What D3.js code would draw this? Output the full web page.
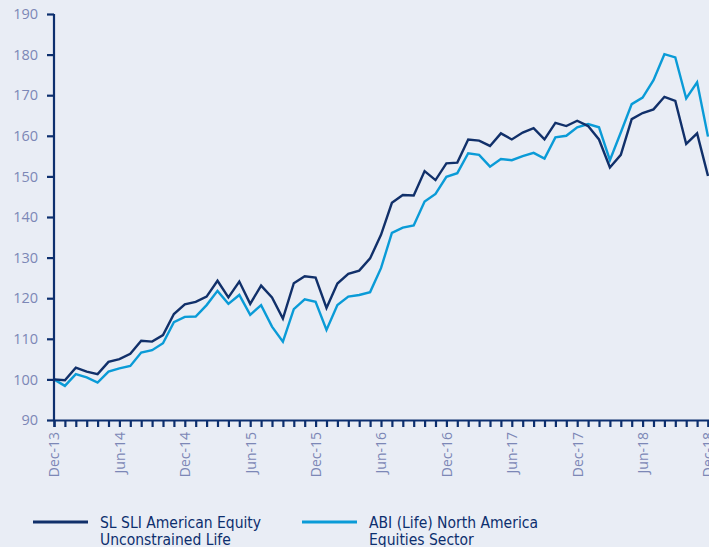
<!DOCTYPE html>
<html>
<head>
<meta charset="utf-8">
<script src="https://cdn.jsdelivr.net/npm/d3@7"></script>
<style>
  html, body { margin: 0; padding: 0; background: #e9edf5; overflow: hidden; }
  svg { display: block; }
</style>
</head>
<body>
<svg id="chart" width="709" height="547"></svg>
<script>
// Monthly index values, Dec-13 = 100
var months = d3.range(0, 61);
var tickLabels = ["Dec-13", "Jun-14", "Dec-14", "Jun-15", "Dec-15", "Jun-16",
  "Dec-16", "Jun-17", "Dec-17", "Jun-18", "Dec-18"];
var yTicks = [90, 100, 110, 120, 130, 140, 150, 160, 170, 180, 190];

var sliValues = [100, 99.8, 102.9, 101.9, 101.3, 104.3, 105, 106.3, 109.5, 109.3,
  110.9, 116.1, 118.5, 119.1, 120.4, 124.3, 120.2, 124.1, 118.6, 123.1,
  120.2, 115, 123.7, 125.4, 125.1, 117.6, 123.6, 126, 126.8, 129.8,
  135.6, 143.5, 145.4, 145.3, 151.3, 149.1, 153.2, 153.4, 159.1, 158.8,
  157.5, 160.6, 159.1, 160.8, 161.9, 159.1, 163.2, 162.4, 163.7, 162.4,
  159.1, 152.2, 155.3, 164.1, 165.6, 166.5, 169.6, 168.6, 158, 160.6, 150.1];

var abiValues = [100, 98.4, 101.3, 100.5, 99.2, 101.9, 102.7, 103.3, 106.6, 107.2,
  108.9, 114.1, 115.4, 115.5, 118.3, 121.8, 118.6, 120.8, 115.9, 118.3,
  113, 109.3, 117.3, 119.7, 119.1, 112.2, 118.3, 120.4, 120.8, 121.5,
  127.4, 136.1, 137.4, 137.9, 143.8, 145.7, 149.9, 150.8, 155.7, 155.3,
  152.4, 154.3, 154, 155, 155.8, 154.4, 159.6, 160, 162.1, 162.9,
  162.1, 154, 160.8, 167.8, 169.4, 173.7, 180.1, 179.3, 169.2, 173.2, 159.8];

var seriesNames = [["SL SLI American Equity", "Unconstrained Life"],
  ["ABI (Life) North America", "Equities Sector"]];

var axisColor = "#0d2f6e";
var labelColor = "#7c87b6";
var darkBlue = "#11306a";
var lightBlue = "#0a9bd7";

var svg = d3.select("#chart");
var margin = { left: 54, top: 14, right: 1, bottom: 127 };
var width = 709 - margin.left - margin.right;
var height = 547 - margin.top - margin.bottom;

var g = svg.append("g").attr("transform", `translate(${margin.left},${margin.top})`);

var x = d3.scaleLinear().domain([0, 60]).range([0, width]);
var y = d3.scaleLinear().domain([90, 190]).range([height, 0]);

// lines
var line = d3.line()
  .x((d, i) => x(months[i]))
  .y((d) => y(d));

g.append("path")
  .datum(abiValues)
  .attr("fill", "none")
  .attr("stroke", lightBlue)
  .attr("stroke-width", 2.4)
  .attr("stroke-linejoin", "miter")
  .attr("d", line);

g.append("path")
  .datum(sliValues)
  .attr("fill", "none")
  .attr("stroke", darkBlue)
  .attr("stroke-width", 2.4)
  .attr("stroke-linejoin", "miter")
  .attr("d", line);

// y axis
var yAxis = g.append("g")
  .call(d3.axisLeft(y).tickValues(yTicks).tickSize(7).tickPadding(9));
yAxis.select(".domain").attr("stroke", axisColor).attr("stroke-width", 2.2)
  .attr("d", `M0,${height + 1}V0`);
yAxis.selectAll(".tick line").attr("stroke", axisColor).attr("stroke-width", 2.2);
yAxis.selectAll(".tick text")
  .attr("fill", labelColor)
  .style("font-family", "'Open Sans', 'Noto Sans', sans-serif")
  .style("font-size", "14.5px");

// x axis: a tick every month, label every 6 months
var xAxis = g.append("g")
  .attr("transform", `translate(0,${height})`)
  .call(d3.axisBottom(x).tickValues(months).tickSize(7)
    .tickFormat((d) => (d % 6 == 0 ? tickLabels[d / 6] : "")));
xAxis.select(".domain").attr("stroke", axisColor).attr("stroke-width", 2.2);
xAxis.selectAll(".tick line").attr("stroke", axisColor).attr("stroke-width", 2.2);
xAxis.selectAll(".tick text")
  .attr("fill", labelColor)
  .style("font-family", "'Open Sans', 'Noto Sans', sans-serif")
  .style("font-size", "14px")
  .attr("text-anchor", "end")
  .attr("transform", "rotate(-90)")
  .attr("x", -12)
  .attr("y", 0)
  .attr("dy", "0.35em");

// legend
var legendColors = [darkBlue, lightBlue];
var legendX = [33, 302];
seriesNames.forEach((name, i) => {
  var lg = svg.append("g").attr("transform", `translate(${legendX[i]},522)`);
  lg.append("line")
    .attr("x1", 0).attr("x2", 55)
    .attr("stroke", legendColors[i])
    .attr("stroke-width", 3);
  lg.append("text")
    .attr("x", 67)
    .attr("y", 6)
    .attr("fill", axisColor)
    .style("font-family", "'Liberation Sans Narrow', 'DejaVu Sans Condensed', sans-serif")
    .style("font-size", "15.5px")
    .selectAll("tspan")
    .data(name)
    .join("tspan")
    .attr("x", 67)
    .attr("dy", (d, j) => (j == 0 ? 0 : 16.5))
    .text((d) => d);
});
</script>
</body>
</html>
